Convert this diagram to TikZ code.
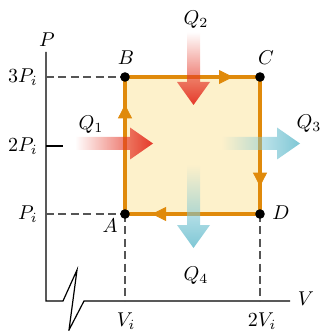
\documentclass[tikz,border=0pt]{standalone}
\usetikzlibrary{arrows.meta,decorations.markings,fadings}
\definecolor{cycorange}{HTML}{E08A0B}
\definecolor{cycfill}{HTML}{FDF1CB}
\definecolor{qred}{HTML}{E5392A}
\definecolor{qblue}{HTML}{7EC7D5}
\definecolor{dashgray}{HTML}{555555}
\tikzfading[name=fadeR, left color=transparent!100, right color=transparent!0]
\tikzfading[name=fadeD, top color=transparent!100, bottom color=transparent!0]
\tikzset{
  axisline/.style={line width=0.6pt, black},
  guide/.style={dashgray, line width=0.6pt, dash pattern=on 4pt off 2.2pt},
  edge/.style={cycorange, line width=1.9pt},
  edgearrow/.style={decorate, decoration={markings,
      mark=at position 0.8 with {\arrow[cycorange]{Triangle[length=7pt,width=7pt]}}}},
  dot/.style={black},
  lbl/.style={inner sep=1pt, font=\normalsize},
}
\begin{document}
\begin{tikzpicture}[x=0.5pt,y=-0.5pt]
\useasboundingbox (0,0) rectangle (321,331);
% points
\coordinate (A) at (125,214);
\coordinate (B) at (125,77);
\coordinate (C) at (260,77);
\coordinate (D) at (260,214);
\coordinate (O) at (46,301);
\coordinate (Ptop) at (46,52);
\coordinate (Vend) at (290,301);
\coordinate (P3) at (46,77);
\coordinate (P2) at (46,146);
\coordinate (P2e) at (63,146);
\coordinate (P1) at (46,214);
\coordinate (Vi) at (125,301);
\coordinate (V2) at (260,301);
% axes with break
\draw[axisline] (Ptop) -- (O) -- (63,301) -- (77,270) -- (69,330) -- (84,301) -- (Vend);
\draw[axisline] (P2) -- (P2e);
% guides
\draw[guide] (P3) -- (B);
\draw[guide] (P1) -- (A);
\draw[guide] (A) -- (Vi);
\draw[guide] (D) -- (V2);
% cycle
\fill[cycfill] (A) rectangle (C);
\draw[edge, line join=miter] (A) -- (B) -- (C) -- (D) -- cycle;
\path[edgearrow] (A) -- (B);
\path[edgearrow] (B) -- (C);
\path[edgearrow] (C) -- (D);
\path[edgearrow] (D) -- (A);
% heat arrows
\fill[qred, path fading=fadeR] (75,137) -- (130,137) -- (130,127.5) -- (153,143.5) -- (130,159.5) -- (130,150) -- (75,150) -- cycle;
\fill[qred, path fading=fadeD] (187,32) -- (187,82) -- (177,82) -- (193.5,105) -- (210,82) -- (200,82) -- (200,32) -- cycle;
\fill[qblue, path fading=fadeR] (222,137) -- (277,137) -- (277,127.5) -- (300,143.5) -- (277,159.5) -- (277,150) -- (222,150) -- cycle;
\fill[qblue, path fading=fadeD] (187,165) -- (187,225) -- (177,225) -- (193.5,248) -- (210,225) -- (200,225) -- (200,165) -- cycle;
% dots
\fill[dot] (A) circle[radius=2.4pt];
\fill[dot] (B) circle[radius=2.4pt];
\fill[dot] (C) circle[radius=2.4pt];
\fill[dot] (D) circle[radius=2.4pt];
% labels
\node[lbl] (lP) at (47,40) {$P$};
\node[lbl] (lV) at (306,299) {$V$};
\node[lbl, anchor=east] (l3P) at (40,77) {$3P_i$};
\node[lbl, anchor=east] (l2P) at (40,146) {$2P_i$};
\node[lbl, anchor=east] (l1P) at (40,214) {$P_i$};
\node[lbl] (lVi) at (126,321) {$V_i$};
\node[lbl] (l2Vi) at (262,321) {$2V_i$};
\node[lbl] (lA) at (110,226) {$A$};
\node[lbl] (lB) at (126,58) {$B$};
\node[lbl] (lC) at (266,58) {$C$};
\node[lbl] (lD) at (281,213) {$D$};
\node[lbl] (lQ1) at (91,125) {$Q_1$};
\node[lbl] (lQ2) at (196,20) {$Q_2$};
\node[lbl] (lQ3) at (309,124) {$Q_3$};
\node[lbl] (lQ4) at (196,276) {$Q_4$};
\end{tikzpicture}
\end{document}
